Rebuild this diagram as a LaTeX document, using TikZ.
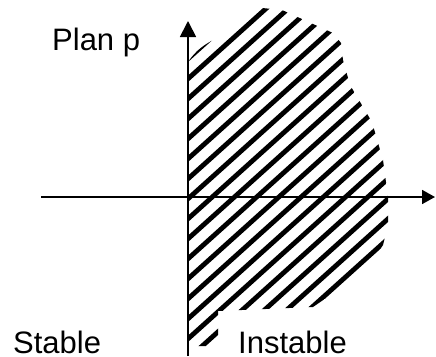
\documentclass[tikz,border=0pt]{standalone}
\usepackage{fontspec}
\setmainfont{Liberation Sans}
\usetikzlibrary{arrows.meta}
\begin{document}
\begin{tikzpicture}[x=1pt,y=-1pt,
  axis/.style={line width=1.8pt},
  hatch/.style={line width=4.8pt},
  lbl/.style={inner sep=0pt,anchor=base west,font=\fontsize{31}{36}\selectfont}]
\useasboundingbox (0,0) rectangle (436,356);
\begin{scope}
\clip (188,346) -- (188,62) .. controls (196,50) and (205,44) .. (217,38)
  -- (262,8) -- (282,10) -- (313,24) -- (333,33) -- (341,43) -- (343,60)
  -- (350,85) -- (372,122) -- (383,160) -- (388,197) -- (388,225)
  -- (383,245) -- (370,265) -- (345,285) -- (313,307) -- (218,311)
  -- (218,346) -- cycle;
\foreach \c in {168,188,...,728} {
  \draw[hatch] (150,{\c-135}) -- (450,{\c-405});
}
\end{scope}
\coordinate (vb) at (188,356);
\coordinate (vt) at (188,21);
\coordinate (hl) at (41,197);
\coordinate (hr) at (435,197);
\draw[axis,-{Triangle[length=16pt,width=16pt]}] (vb) -- (vt);
\draw[axis,-{Triangle[length=13pt,width=14pt]}] (hl) -- (hr);
\node[lbl] (plan) at (52,50) {Plan p};
\node[lbl] (stable) at (13,353) {Stable};
\node[lbl] (instable) at (238,353) {Instable};
\end{tikzpicture}
\end{document}
